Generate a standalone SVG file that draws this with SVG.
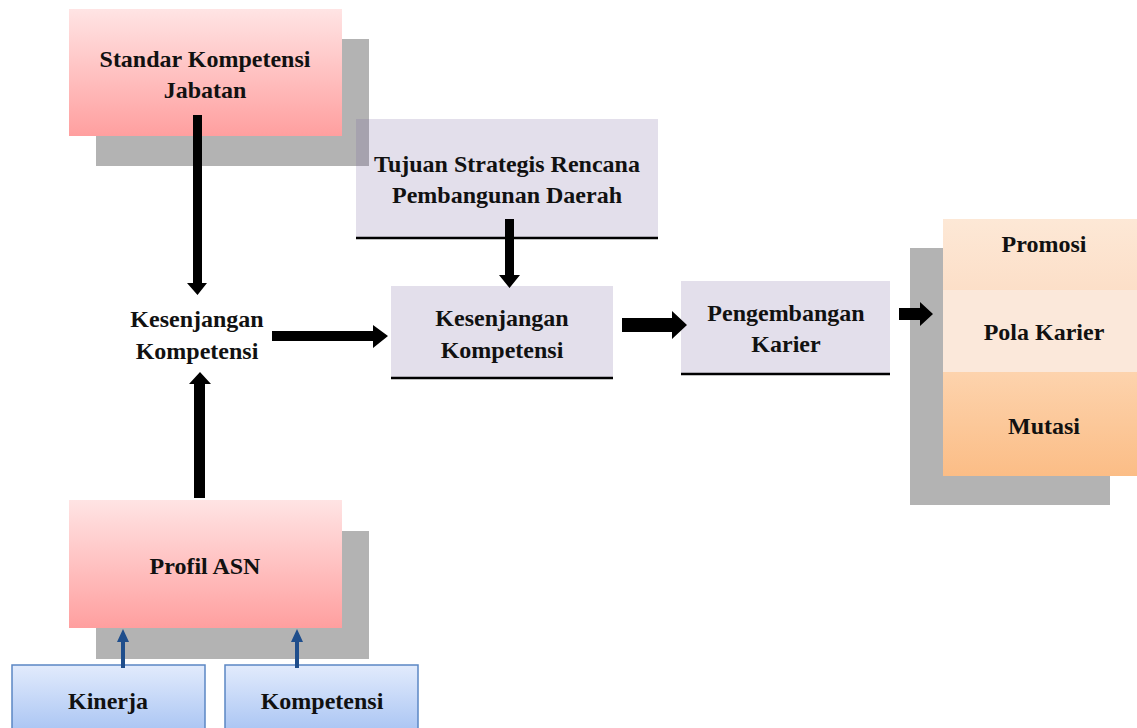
<svg xmlns="http://www.w3.org/2000/svg" width="1137" height="728" viewBox="0 0 1137 728">
<defs>
<linearGradient id="pink" x1="0" y1="0" x2="0" y2="1"><stop offset="0" stop-color="#ffe4e4"/><stop offset="1" stop-color="#ff9f9f"/></linearGradient>
<linearGradient id="blue" x1="0" y1="0" x2="0" y2="1"><stop offset="0" stop-color="#e2ebfc"/><stop offset="1" stop-color="#a7c3f3"/></linearGradient>
<linearGradient id="peach1" x1="0" y1="0" x2="0" y2="1"><stop offset="0" stop-color="#fde8d6"/><stop offset="1" stop-color="#fcdfc8"/></linearGradient>
<linearGradient id="peach3" x1="0" y1="0" x2="0" y2="1"><stop offset="0" stop-color="#fdd3ad"/><stop offset="1" stop-color="#fbbd86"/></linearGradient>
<style>
text{font-family:"Liberation Serif","Times New Roman",serif;font-weight:bold;font-size:24px;fill:#111;text-anchor:middle}
.sh{fill:#b3b3b3}
.lav{fill:#e3dfeb}
.base{stroke:#000;stroke-width:2.5}
.arr{fill:#000}
.bl{fill:#1f4e8c}
</style>
</defs>
<g id="standar">
<rect class="sh" x="96" y="39" width="273" height="127"/>
<rect x="69" y="9" width="273" height="127" fill="url(#pink)"/>
<text x="205" y="67">Standar Kompetensi</text>
<text x="205" y="98">Jabatan</text>
</g>
<g id="tujuan">
<rect class="lav" x="356" y="119" width="302" height="119"/>
<rect x="356" y="119" width="13" height="47" fill="#a6a2ae"/>
<line class="base" x1="356" y1="238" x2="658" y2="238"/>
<text x="507" y="172">Tujuan Strategis Rencana</text>
<text x="507" y="203">Pembangunan Daerah</text>
</g>
<g id="kesenjangan1">
<text x="197" y="327">Kesenjangan</text>
<text x="197" y="359">Kompetensi</text>
</g>
<g id="kesenjangan2">
<rect class="lav" x="391" y="286" width="222" height="92"/>
<line class="base" x1="391" y1="378" x2="613" y2="378"/>
<text x="502" y="326">Kesenjangan</text>
<text x="502" y="358">Kompetensi</text>
</g>
<g id="pengembangan">
<rect class="lav" x="681" y="281" width="209" height="93"/>
<line class="base" x1="681" y1="374" x2="890" y2="374"/>
<text x="786" y="321">Pengembangan</text>
<text x="786" y="352">Karier</text>
</g>
<g id="karier">
<rect class="sh" x="910" y="248" width="200" height="257"/>
<rect x="943" y="219" width="194" height="71" fill="url(#peach1)"/>
<rect x="943" y="290" width="194" height="82" fill="#fbe8da"/>
<rect x="943" y="372" width="194" height="104" fill="url(#peach3)"/>
<text x="1044" y="252">Promosi</text>
<text x="1044" y="340">Pola Karier</text>
<text x="1044" y="434">Mutasi</text>
</g>
<g id="profil">
<rect class="sh" x="96" y="531" width="273" height="128"/>
<rect x="69" y="500" width="273" height="128" fill="url(#pink)"/>
<text x="205" y="574">Profil ASN</text>
</g>
<g id="kinerja">
<rect x="12" y="665" width="193" height="70" fill="url(#blue)" stroke="#5b87c4" stroke-width="1.5"/>
<text x="108" y="709">Kinerja</text>
</g>
<g id="kompetensi">
<rect x="225" y="665" width="193" height="70" fill="url(#blue)" stroke="#5b87c4" stroke-width="1.5"/>
<text x="322" y="709">Kompetensi</text>
</g>
<g id="connectors">
<polygon class="arr" points="193,115 202,115 202,283 207,283 197.5,295 187,283 193,283"/>
<polygon class="arr" points="194,498 205,498 205,384 211,384 200,372 189,384 194,384"/>
<polygon class="arr" points="272,331 373,331 373,325 388,336 373,348 373,341 272,341"/>
<polygon class="arr" points="505,219 514,219 514,275 520,275 509.5,288 499,275 505,275"/>
<polygon class="arr" points="622,318 672,318 672,311 687,325 672,339 672,332 622,332"/>
<polygon class="arr" points="899,308 920,308 920,302 933,314 920,326 920,320 899,320"/>
<polygon class="bl" points="121,668 125,668 125,642 129,642 123,629 117,642 121,642"/>
<polygon class="bl" points="295,668 299,668 299,642 303,642 297,629 291,642 295,642"/>
</g>
</svg>
